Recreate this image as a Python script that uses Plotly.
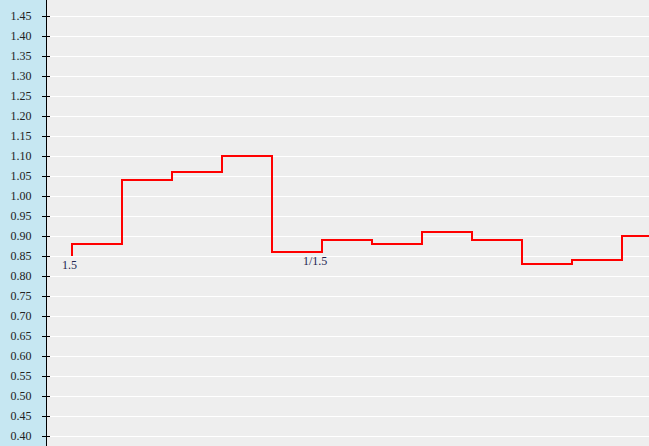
import plotly.graph_objects as go

x_pos = [0, 1, 2, 3, 4, 5, 6, 7, 8, 9, 10, 11, 12]
values = [0.85, 0.88, 1.04, 1.06, 1.10, 0.86, 0.89, 0.88, 0.91, 0.89, 0.83, 0.84, 0.90]
label_idx = [0, 5]
label_text = ["1.5", "1/1.5"]

fig = go.Figure()
fig.add_trace(go.Scatter(x=x_pos, y=values, mode="lines",
                         line=dict(shape="vh", color="#ff0000", width=2),
                         hoverinfo="skip", showlegend=False))
# dummy trace for second y axis (inside ticks)
fig.add_trace(go.Scatter(x=[None], y=[None], yaxis="y2", showlegend=False, hoverinfo="skip"))

for i, t in zip(label_idx, label_text):
    fig.add_annotation(x=x_pos[i], y=values[i], text=t, showarrow=False,
                       xanchor="right", yanchor="top", xshift=7, yshift=0,
                       font=dict(family="Liberation Serif", size=12, color="#1c2550"))

yr = [0.375, 1.49]
fig.update_layout(
    width=649, height=446,
    margin=dict(l=47, r=0, t=0, b=0),
    paper_bgcolor="#c6e7f2",
    plot_bgcolor="#eeeeee",
    xaxis=dict(range=[-0.5, 11.54], showgrid=False, zeroline=False,
               showticklabels=False, ticks="", showline=False),
    yaxis=dict(range=yr, tick0=0.40, dtick=0.05, tickformat=".2f",
               showgrid=True, gridcolor="#ffffff", gridwidth=1,
               zeroline=False, showline=True, linecolor="#000000", linewidth=1,
               ticks="outside", ticklen=4, tickcolor="#000000", tickwidth=1,
               ticklabelstandoff=8,
               tickfont=dict(family="Liberation Serif", size=12, color="#222222")),
    yaxis2=dict(range=yr, tick0=0.40, dtick=0.05, overlaying="y", side="left",
                anchor="x", showgrid=False, zeroline=False, showline=False,
                ticks="inside", ticklen=3, tickcolor="#000000", tickwidth=1,
                showticklabels=False),
)
fig.write_html("out.html", config={"displayModeBar": False},
               post_script="document.body.style.margin='0px';document.body.style.overflow='hidden';")
